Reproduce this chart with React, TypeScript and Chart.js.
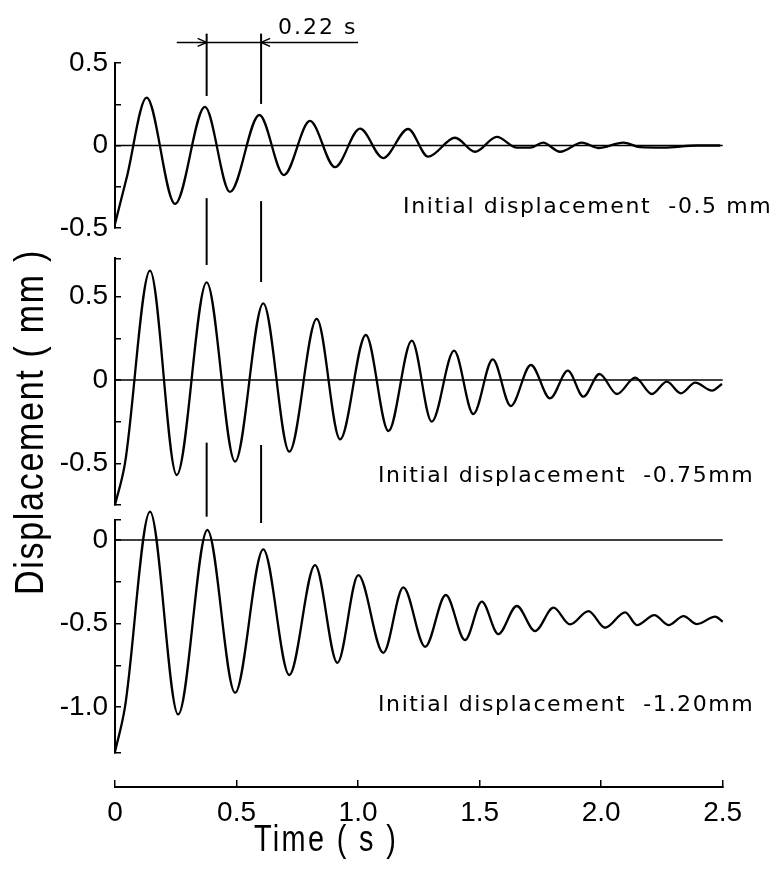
import React, { useEffect, useRef } from 'react';
import { Chart, registerables } from 'chart.js';

Chart.register(...registerables);

// ---------- axis ticks ----------
const timeTicks = [0, 0.5, 1.0, 1.5, 2.0, 2.5];
const timeTickLabels = ['0', '0.5', '1.0', '1.5', '2.0', '2.5'];

const topTickValues = [-0.5, -0.25, 0, 0.25, 0.5];
const topTickLabels = ['-0.5', '', '0', '', '0.5'];
const midTickValues = [-0.75, -0.5, -0.25, 0, 0.25, 0.5, 0.73];
const midTickLabels = ['', '-0.5', '', '0', '', '0.5', ''];
const botTickValues = [-1.275, -1.0, -0.75, -0.5, -0.25, 0, 0.12];
const botTickLabels = ['', '-1.0', '', '-0.5', '', '0', ''];

// ---------- series: initial displacement -0.5 mm ----------
const timeA = [0, 0.048, 0.130, 0.247, 0.370, 0.473, 0.594, 0.695, 0.802, 0.905, 1.008, 1.103, 1.206, 1.288, 1.399, 1.481, 1.571, 1.654, 1.708, 1.761, 1.831, 1.921, 1.988, 2.091, 2.16, 2.255, 2.395, 2.49];
const dispA = [-0.475, -0.196, 0.29, -0.354, 0.234, -0.281, 0.185, -0.179, 0.149, -0.131, 0.102, -0.076, 0.10, -0.068, 0.047, -0.038, 0.052, -0.013, -0.013, 0.017, -0.038, 0.017, -0.015, 0.017, -0.01, -0.013, 0, 0];

// ---------- series: initial displacement -0.75 mm ----------
const timeB = [0, 0.041, 0.144, 0.254, 0.377, 0.494, 0.610, 0.717, 0.830, 0.926, 1.032, 1.125, 1.221, 1.303, 1.395, 1.474, 1.554, 1.628, 1.711, 1.790, 1.863, 1.927, 1.993, 2.065, 2.140, 2.209, 2.270, 2.328, 2.387, 2.456, 2.497];
const dispB = [-0.75, -0.5, 0.656, -0.57, 0.586, -0.49, 0.46, -0.43, 0.366, -0.356, 0.27, -0.306, 0.236, -0.25, 0.176, -0.204, 0.124, -0.156, 0.09, -0.11, 0.056, -0.10, 0.036, -0.084, 0.014, -0.084, -0.01, -0.08, -0.016, -0.064, -0.024];

// ---------- series: initial displacement -1.20 mm ----------
const timeC = [0, 0.041, 0.144, 0.260, 0.380, 0.494, 0.610, 0.717, 0.823, 0.915, 1.001, 1.104, 1.186, 1.276, 1.361, 1.440, 1.509, 1.577, 1.653, 1.728, 1.804, 1.872, 1.948, 2.016, 2.099, 2.147, 2.219, 2.277, 2.339, 2.394, 2.469, 2.5];
const dispC = [-1.268, -1.0, 0.17, -1.044, 0.06, -0.914, -0.056, -0.808, -0.15, -0.735, -0.21, -0.675, -0.283, -0.639, -0.329, -0.599, -0.369, -0.563, -0.395, -0.545, -0.405, -0.505, -0.425, -0.525, -0.433, -0.509, -0.449, -0.509, -0.455, -0.503, -0.459, -0.489];

// ---------- annotations ----------
const panelLabels = ['Initial displacement  -0.5 mm', 'Initial displacement  -0.75mm', 'Initial displacement  -1.20mm'];
const panelLabelTimes = [1.185, 1.082, 1.082];
const panelLabelValues = [-0.41, -0.612, -1.024];
const periodLabel = '0.22 s';
const markerTimes = [0.377, 0.601];
// [panel from, value from, panel to, value to] for each marker time
const markerSegmentsA = [['yTop', 0.678, 'yTop', 0.30], ['yTop', -0.319, 'yMid', 0.69], ['yMid', -0.376, 'yBot', 0.14]];
const markerSegmentsB = [['yTop', 0.678, 'yTop', 0.252], ['yTop', -0.337, 'yMid', 0.588], ['yMid', -0.39, 'yBot', 0.102]];
const dimLineTimes = [0.254, 1.0];
const dimLineValue = 0.625;
const periodLabelTime = 0.671;
const periodLabelValue = 0.678;

const yTitle = 'Displacement ( mm )';
const xTitle = 'Time ( s )';

const toPoints = (t: number[], v: number[]) => t.map((x, i) => ({ x, y: v[i] }));

const annotationPlugin = {
  id: 'figureAnnotations',
  afterDatasetsDraw(chart: any) {
    const { ctx, scales, chartArea } = chart;
    const xs = scales.x;
    ctx.save();
    ctx.strokeStyle = '#000';
    ctx.fillStyle = '#000';
    ctx.lineCap = 'butt';

    // vertical marker lines
    ctx.lineWidth = 2;
    [markerSegmentsA, markerSegmentsB].forEach((segs, k) => {
      const px = xs.getPixelForValue(markerTimes[k]);
      segs.forEach((s: any[]) => {
        ctx.beginPath();
        ctx.moveTo(px, scales[s[0]].getPixelForValue(s[1]));
        ctx.lineTo(px, scales[s[2]].getPixelForValue(s[3]));
        ctx.stroke();
      });
    });

    // dimension line with arrows
    const dy = scales.yTop.getPixelForValue(dimLineValue);
    ctx.lineWidth = 1.5;
    ctx.beginPath();
    ctx.moveTo(xs.getPixelForValue(dimLineTimes[0]), dy);
    ctx.lineTo(xs.getPixelForValue(dimLineTimes[1]), dy);
    ctx.stroke();
    const a1 = xs.getPixelForValue(markerTimes[0]);
    const a2 = xs.getPixelForValue(markerTimes[1]);
    ctx.beginPath();
    ctx.moveTo(a1 - 9, dy - 4); ctx.lineTo(a1, dy); ctx.lineTo(a1 - 9, dy + 4);
    ctx.moveTo(a2 + 9, dy - 4); ctx.lineTo(a2, dy); ctx.lineTo(a2 + 9, dy + 4);
    ctx.stroke();

    // period label
    ctx.font = '22px "DejaVu Sans"';
    ctx.textAlign = 'left';
    ctx.textBaseline = 'alphabetic';
    (ctx as any).letterSpacing = '2px';
    ctx.fillText(periodLabel, xs.getPixelForValue(periodLabelTime), scales.yTop.getPixelForValue(periodLabelValue));

    // panel labels
    (ctx as any).letterSpacing = '1.6px';
    const axes = ['yTop', 'yMid', 'yBot'];
    panelLabels.forEach((txt, i) => {
      ctx.fillText(txt, xs.getPixelForValue(panelLabelTimes[i]), scales[axes[i]].getPixelForValue(panelLabelValues[i]));
    });

    // y title (rotated)
    (ctx as any).letterSpacing = '2px';
    ctx.save();
    ctx.translate(32, (chartArea.top + chartArea.bottom) / 2 - 3);
    ctx.rotate(-Math.PI / 2);
    ctx.scale(0.85, 1);
    ctx.font = '40px "Liberation Sans"';
    ctx.textAlign = 'center';
    ctx.textBaseline = 'middle';
    ctx.fillText(yTitle, 0, 0);
    ctx.restore();

    // x title
    ctx.save();
    ctx.translate(326, chartArea.bottom + 54);
    ctx.scale(0.78, 1);
    (ctx as any).letterSpacing = '3px';
    ctx.font = '37px "Liberation Sans"';
    ctx.textAlign = 'center';
    ctx.textBaseline = 'middle';
    ctx.fillText(xTitle, 0, 0);
    ctx.restore();

    ctx.restore();
  },
};

const tickFont = { family: 'Liberation Sans', size: 28 };

function panelAxis(min: number, max: number, vals: number[], labels: string[], stackWeight: number, weight: number) {
  return {
    type: 'linear',
    position: 'left',
    stack: 'panels',
    stackWeight,
    weight,
    min,
    max,
    afterBuildTicks: (s: any) => { s.ticks = vals.map((v) => ({ value: v })); },
    afterFit: (s: any) => { s.width = 115; },
    ticks: {
      autoSkip: false,
      padding: 13,
      color: '#000',
      font: tickFont,
      callback: (v: number) => { const i = vals.indexOf(v); return i >= 0 ? labels[i] : ''; },
    },
    grid: { drawOnChartArea: false, drawTicks: true, tickLength: -6, color: '#000', lineWidth: 1.5 },
    border: { display: true, color: '#000', width: 2 },
  };
}

function spacerAxis(stackWeight: number, weight: number) {
  return { type: 'linear', position: 'left', stack: 'panels', stackWeight, weight, display: false };
}

export default function App() {
  const ref = useRef<HTMLCanvasElement | null>(null);
  useEffect(() => {
    if (!ref.current) return;
    const line = (data: any[], axis: string, width: number) => ({
      data,
      yAxisID: axis,
      borderColor: '#000',
      borderWidth: width,
      pointRadius: 0,
      fill: false,
      cubicInterpolationMode: 'monotone',
      clip: false,
    });
    const chart = new Chart(ref.current, {
      type: 'line',
      data: {
        datasets: [
          line([{ x: 0, y: 0 }, { x: 2.5, y: 0 }], 'yTop', 1.5),
          line([{ x: 0, y: 0 }, { x: 2.5, y: 0 }], 'yMid', 1.5),
          line([{ x: 0, y: 0 }, { x: 2.5, y: 0 }], 'yBot', 1.5),
          line(toPoints(timeA, dispA), 'yTop', 2.3),
          line(toPoints(timeB, dispB), 'yMid', 2.3),
          line(toPoints(timeC, dispC), 'yBot', 2.3),
        ] as any,
      },
      options: {
        responsive: false,
        maintainAspectRatio: false,
        animation: false,
        devicePixelRatio: 1,
        layout: { padding: { top: 63, left: 0, right: 52.3, bottom: 0 } },
        plugins: { legend: { display: false }, tooltip: { enabled: false } },
        scales: {
          x: {
            type: 'linear',
            position: 'bottom',
            min: 0,
            max: 2.5,
            afterBuildTicks: (s: any) => { s.ticks = timeTicks.map((v) => ({ value: v })); },
            afterFit: (s: any) => { s.height = 89; },
            ticks: {
              autoSkip: false,
              maxRotation: 0,
              padding: 16,
              color: '#000',
              font: tickFont,
              callback: (v: number) => { const i = timeTicks.indexOf(v); return i >= 0 ? timeTickLabels[i] : ''; },
            },
            grid: { drawOnChartArea: false, drawTicks: true, tickLength: -7, color: '#000', lineWidth: 1.5 },
            border: { display: true, color: '#000', width: 2 },
          },
          yTop: panelAxis(-0.5, 0.5, topTickValues, topTickLabels, 165, 6),
          gap1: spacerAxis(30.3, 5),
          yMid: panelAxis(-0.75, 0.73, midTickValues, midTickLabels, 246.7, 4),
          gap2: spacerAxis(15, 3),
          yBot: panelAxis(-1.275, 0.12, botTickValues, botTickLabels, 233, 2),
          gap3: spacerAxis(34, 1),
        } as any,
      },
      plugins: [annotationPlugin],
    });
    return () => chart.destroy();
  }, []);
  return (
    <canvas
      ref={ref}
      width={775}
      height={876}
      style={{ position: 'absolute', left: 0, top: 0, background: '#fff' }}
    />
  );
}
